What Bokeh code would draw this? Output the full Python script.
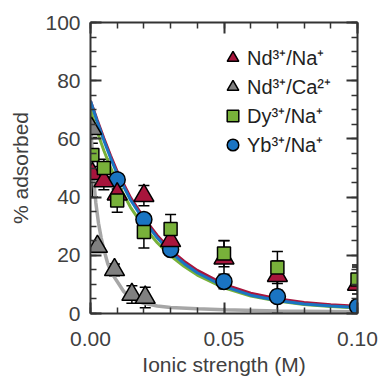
import numpy as np
from bokeh.plotting import figure
from bokeh.models import (Range1d, LinearAxis, Whisker, TeeHead, ColumnDataSource,
                          Legend, LegendItem, FixedTicker, PrintfTickFormatter)
from bokeh.embed import file_html
from bokeh.resources import INLINE

# --- measured adsorption (% adsorbed vs ionic strength, M) ---
nd_na_x = [0.0007, 0.005, 0.01, 0.02, 0.03, 0.05, 0.07, 0.1]
nd_na_y = [48, 45.5, 41, 40.5, 25, 19, 13, 10]
nd_na_err = [8, 3, 3, 3.5, 3, 6, 5, 6]

nd_ca_x = [0.0004, 0.0026, 0.009, 0.0155, 0.0205]
nd_ca_y = [63.5, 23, 15, 6.5, 5.5]
nd_ca_err = [3, 2, 2, 3, 3.5]

dy_na_x = [0.0007, 0.005, 0.01, 0.02, 0.03, 0.05, 0.07, 0.1]
dy_na_y = [54.5, 50, 38.8, 28, 29, 20.6, 15.8, 11.7]
dy_na_err = [4, 3, 4, 5.5, 5, 4.5, 5.5, 5]

yb_na_x = [0.01, 0.02, 0.03, 0.05, 0.07, 0.1]
yb_na_y = [46, 32.3, 22, 11, 5.8, 2.4]
yb_na_err = [2, 2, 2, 2.5, 5.5, 2]

# --- model curves ---
fit_x = [0, 0.0025, 0.005, 0.0075, 0.01, 0.015, 0.02, 0.025, 0.03, 0.035, 0.04,
         0.05, 0.06, 0.07, 0.08, 0.09, 0.1]
fit_nd_na = [73, 66.5, 60.2, 54.3, 48.8, 39.8, 32.8, 26.8, 21.8, 18, 14.8,
             10, 7, 5.1, 3.8, 3, 2.5]
fit_dy_na = [70, 62.5, 56, 50.2, 45, 36.5, 29.8, 24.3, 19.8, 16.2, 13.2,
             8.8, 6, 4.3, 3.1, 2.4, 1.9]
fit_yb_na = [73, 66, 59.5, 53.5, 48, 39, 32, 26, 21, 17.2, 14,
             9.3, 6.3, 4.5, 3.3, 2.6, 2.1]

fit_ca_x = [0, 0.0005, 0.001, 0.0015, 0.002, 0.003, 0.004, 0.005, 0.0065, 0.008,
            0.01, 0.0125, 0.015, 0.0175, 0.02, 0.025, 0.03, 0.04, 0.05, 0.07, 0.1]
fit_nd_ca = [68, 57, 49, 43, 38, 31, 26, 22, 17, 13.8,
             11, 7.5, 5.5, 4.3, 3.5, 2.6, 2.1, 1.6, 1.3, 0.9, 0.6]

x_major = [0, 0.05, 0.1]
y_major = [0, 20, 40, 60, 80, 100]

RED = "#a8153c"
GRAY = "#808080"
GREEN = "#78b13a"
BLUE = "#1a74c2"
AX = "#333333"
TXT = "#404040"
FONT = "Liberation Sans"

p = figure(width=380, height=378, x_range=Range1d(0, 0.1), y_range=Range1d(0, 100),
           output_backend="svg", toolbar_location=None,
           min_border_left=90, min_border_right=23, min_border_top=22, min_border_bottom=65)
p.outline_line_color = None
p.xgrid.visible = False
p.ygrid.visible = False
p.background_fill_color = "white"
p.border_fill_color = "white"

top_axis = LinearAxis()
right_axis = LinearAxis()
p.add_layout(top_axis, "above")
p.add_layout(right_axis, "right")
bottom_axis = p.below[0]
left_axis = p.left[0]

x_ticker = FixedTicker(ticks=x_major, minor_ticks=[round(0.01 * i, 2) for i in range(11)])
y_ticker = FixedTicker(ticks=y_major, minor_ticks=list(range(0, 101, 5)))

for ax in (bottom_axis, top_axis):
    ax.ticker = x_ticker
    ax.formatter = PrintfTickFormatter(format="%.2f")
for ax in (left_axis, right_axis):
    ax.ticker = y_ticker

for ax in (bottom_axis, top_axis, left_axis, right_axis):
    ax.axis_line_color = AX
    ax.axis_line_width = 2
    ax.major_tick_line_color = AX
    ax.major_tick_line_width = 2
    ax.minor_tick_line_color = AX
    ax.minor_tick_line_width = 1.5
    ax.major_tick_in = 11
    ax.major_tick_out = 0
    ax.minor_tick_in = 6
    ax.minor_tick_out = 0
    ax.major_label_text_font = FONT
    ax.major_label_text_font_size = "21px"
    ax.major_label_text_color = TXT
    ax.axis_label_text_font = FONT
    ax.axis_label_text_font_size = "21px"
    ax.axis_label_text_font_style = "normal"
    ax.axis_label_text_color = TXT

# frame-only axes on top and right: ticks without labels
top_axis.major_label_overrides = {t: "" for t in x_major}
right_axis.major_label_overrides = {t: "" for t in y_major}
for ax in (top_axis, right_axis):
    ax.major_label_standoff = 0

bottom_axis.major_label_standoff = 18
bottom_axis.axis_label = "Ionic strength (M)"
bottom_axis.axis_label_standoff = 4
left_axis.major_label_standoff = 10
left_axis.axis_label = "% adsorbed"
left_axis.axis_label_standoff = 10

# model curves
p.line(fit_ca_x, fit_nd_ca, line_color="#a6a6a6", line_width=3.5)
p.line(fit_x, fit_nd_na, line_color=RED, line_width=3)
p.line(fit_x, fit_dy_na, line_color=GREEN, line_width=3)
p.line(fit_x, fit_yb_na, line_color=BLUE, line_width=3)


def error_bars(xs, ys, errs):
    src = ColumnDataSource(dict(x=xs,
                                lower=[y - e for y, e in zip(ys, errs)],
                                upper=[y + e for y, e in zip(ys, errs)]))
    w = Whisker(base="x", lower="lower", upper="upper", source=src, dimension="height",
                line_color="black", line_width=1.5,
                upper_head=TeeHead(size=11, line_color="black", line_width=1.5),
                lower_head=TeeHead(size=11, line_color="black", line_width=1.5),
                level="underlay")
    p.add_layout(w)


for xs, ys, es in ((yb_na_x, yb_na_y, yb_na_err), (nd_na_x, nd_na_y, nd_na_err),
                   (dy_na_x, dy_na_y, dy_na_err), (nd_ca_x, nd_ca_y, nd_ca_err)):
    error_bars(xs, ys, es)

r_yb = p.scatter(yb_na_x, yb_na_y, marker="circle", size=16, fill_color=BLUE,
                 line_color="black", line_width=1.5)
r_nd = p.scatter(nd_na_x, nd_na_y, marker="triangle", size=20, fill_color=RED,
                 line_color="black", line_width=1.5)
r_dy = p.scatter(dy_na_x, dy_na_y, marker="square", size=13, fill_color=GREEN,
                 line_color="black", line_width=1.5)
r_ca = p.scatter(nd_ca_x, nd_ca_y, marker="triangle", size=20, fill_color=GRAY,
                 line_color="black", line_width=1.5)

legend = Legend(items=[LegendItem(label="Nd³⁺/Na⁺", renderers=[r_nd]),
                       LegendItem(label="Nd³⁺/Ca²⁺", renderers=[r_ca]),
                       LegendItem(label="Dy³⁺/Na⁺", renderers=[r_dy]),
                       LegendItem(label="Yb³⁺/Na⁺", renderers=[r_yb])],
                location=(128, 154), margin=0, padding=8, spacing=0,
                glyph_width=29, glyph_height=29, label_standoff=0,
                label_text_font=FONT, label_text_font_size="20px",
                label_text_color="#222222",
                background_fill_alpha=0, border_line_color=None)
p.add_layout(legend)

open("out.html", "w").write(file_html(p, INLINE))
